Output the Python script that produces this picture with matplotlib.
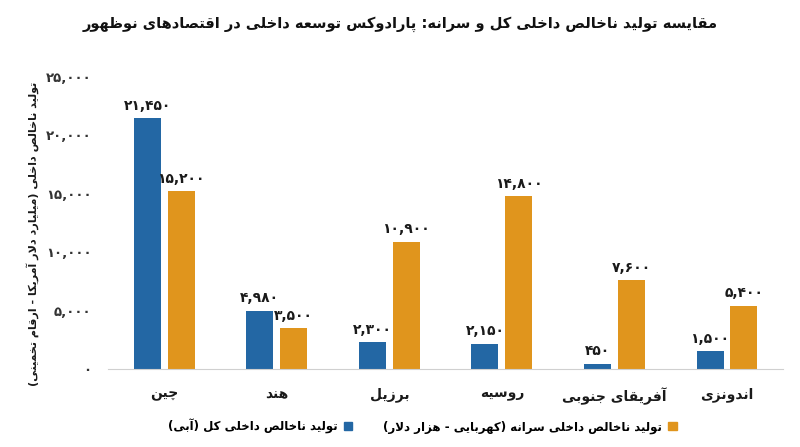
import matplotlib
matplotlib.use("Agg")
import matplotlib.pyplot as plt
from matplotlib.patches import Patch
import numpy as np

# data
countries = ["چین", "هند", "برزیل", "روسیه", "آفریقای جنوبی", "اندونزی"]
gdp_total = [21450, 4980, 2300, 2150, 450, 1500]
gdp_per_capita = [15200, 3500, 10900, 14800, 7600, 5400]
yticks = [0, 5000, 10000, 15000, 20000, 25000]

title = "مقایسه تولید ناخالص داخلی کل و سرانه: پارادوکس توسعه داخلی در اقتصادهای نوظهور"
ylabel = "تولید ناخالص داخلی (میلیارد دلار آمریکا - ارقام تخمینی)"
leg_total = "تولید ناخالص داخلی کل (آبی)"
leg_capita = "تولید ناخالص داخلی سرانه (کهربایی - هزار دلار)"

BLUE = "#2367a4"
ORANGE = "#e0951d"

# minimal arabic/persian shaping (iso, fin, ini, med); right-joining letters have no ini/med
FORMS = {
    "ا": ("\uFE8D", "\uFE8E", None, None),
    "آ": ("\uFE81", "\uFE82", None, None),
    "ب": ("\uFE8F", "\uFE90", "\uFE91", "\uFE92"),
    "پ": ("\uFB56", "\uFB57", "\uFB58", "\uFB59"),
    "ت": ("\uFE95", "\uFE96", "\uFE97", "\uFE98"),
    "ج": ("\uFE9D", "\uFE9E", "\uFE9F", "\uFEA0"),
    "چ": ("\uFB7A", "\uFB7B", "\uFB7C", "\uFB7D"),
    "خ": ("\uFEA5", "\uFEA6", "\uFEA7", "\uFEA8"),
    "د": ("\uFEA9", "\uFEAA", None, None),
    "ر": ("\uFEAD", "\uFEAE", None, None),
    "ز": ("\uFEAF", "\uFEB0", None, None),
    "س": ("\uFEB1", "\uFEB2", "\uFEB3", "\uFEB4"),
    "ص": ("\uFEB9", "\uFEBA", "\uFEBB", "\uFEBC"),
    "ظ": ("\uFEC5", "\uFEC6", "\uFEC7", "\uFEC8"),
    "ع": ("\uFEC9", "\uFECA", "\uFECB", "\uFECC"),
    "ف": ("\uFED1", "\uFED2", "\uFED3", "\uFED4"),
    "ق": ("\uFED5", "\uFED6", "\uFED7", "\uFED8"),
    "ک": ("\uFB8E", "\uFB8F", "\uFB90", "\uFB91"),
    "ل": ("\uFEDD", "\uFEDE", "\uFEDF", "\uFEE0"),
    "م": ("\uFEE1", "\uFEE2", "\uFEE3", "\uFEE4"),
    "ن": ("\uFEE5", "\uFEE6", "\uFEE7", "\uFEE8"),
    "ه": ("\uFEE9", "\uFEEA", "\uFEEB", "\uFEEC"),
    "و": ("\uFEED", "\uFEEE", None, None),
    "ی": ("\uFBFC", "\uFBFD", "\uFBFE", "\uFBFF"),
}
LAM_ALEF = {"ا": ("\uFEFB", "\uFEFC"), "آ": ("\uFEF5", "\uFEF6")}


def dual(c):
    return c in FORMS and FORMS[c][2] is not None


def fa(s):
    out = []
    prev_joins = False
    i = 0
    while i < len(s):
        c = s[i]
        if c not in FORMS:
            out.append(c)
            prev_joins = False
            i += 1
            continue
        nxt = s[i + 1] if i + 1 < len(s) else ""
        if c == "ل" and nxt in LAM_ALEF:
            out.append(LAM_ALEF[nxt][1 if prev_joins else 0])
            prev_joins = False
            i += 2
            continue
        after = dual(c) and nxt in FORMS
        f = FORMS[c]
        if prev_joins and after:
            g = f[3]
        elif prev_joins:
            g = f[1]
        elif after:
            g = f[2]
        else:
            g = f[0]
        out.append(g)
        prev_joins = dual(c)
        i += 1
    vis = "".join(reversed(out))
    return vis.translate(str.maketrans("()", ")("))


def fa_num(v):
    return f"{v:,}".translate(str.maketrans("0123456789", "۰۱۲۳۴۵۶۷۸۹"))


plt.rcParams["font.family"] = ["DejaVu Sans"]
plt.rcParams["font.weight"] = "bold"

fig = plt.figure(figsize=(8, 4.47), dpi=100)
ax = fig.add_axes([0.135, 0.1745, 0.844, 0.6532])

x = np.arange(len(countries))
off = 0.15
w = 0.24
b1 = ax.bar(x - off, gdp_total, w, color=BLUE)
b2 = ax.bar(x + off, gdp_per_capita, w, color=ORANGE)

for rects, vals in ((b1, gdp_total), (b2, gdp_per_capita)):
    for r, v in zip(rects, vals):
        ax.annotate(fa_num(v), (r.get_x() + r.get_width() / 2, v),
                    xytext=(0, 4), textcoords="offset points",
                    ha="center", va="bottom", fontsize=10,
                    fontweight="bold", color="#1a1a1a")

ax.set_xlim(-0.5, len(countries) - 0.5)
ax.set_ylim(0, 25000)
ax.set_yticks(yticks)
ax.set_yticklabels([fa_num(t) for t in yticks], fontsize=9.5,
                   fontweight="bold", color="#333333")
ax.set_xticks(x)
ax.set_xticklabels([fa(c) for c in countries], fontsize=10,
                   fontweight="bold", color="#1a1a1a")
ax.tick_params(axis="y", length=0, pad=12)
ax.tick_params(axis="x", length=0, pad=13)

for s in ("top", "right", "left"):
    ax.spines[s].set_visible(False)
ax.spines["bottom"].set_color("#d0d0d0")

fig.text(0.041, 0.476, fa(ylabel), rotation=90, ha="center", va="center",
         fontsize=8, fontweight="bold", color="#1a1a1a")
fig.text(0.5, 0.946, fa(title), ha="center", va="center",
         fontsize=10.5, fontweight="bold", color="#111111")

handles = [Patch(color=BLUE, label=fa(leg_total)),
           Patch(color=ORANGE, label=fa(leg_capita))]
fig.legend(handles=handles, loc="center", bbox_to_anchor=(0.528, 0.047),
           ncol=2, frameon=False, markerfirst=False, fontsize=8.5,
           handlelength=0.75, handleheight=0.75, handletextpad=0.5,
           columnspacing=2.6)

fig.savefig("out.png", dpi=100)
